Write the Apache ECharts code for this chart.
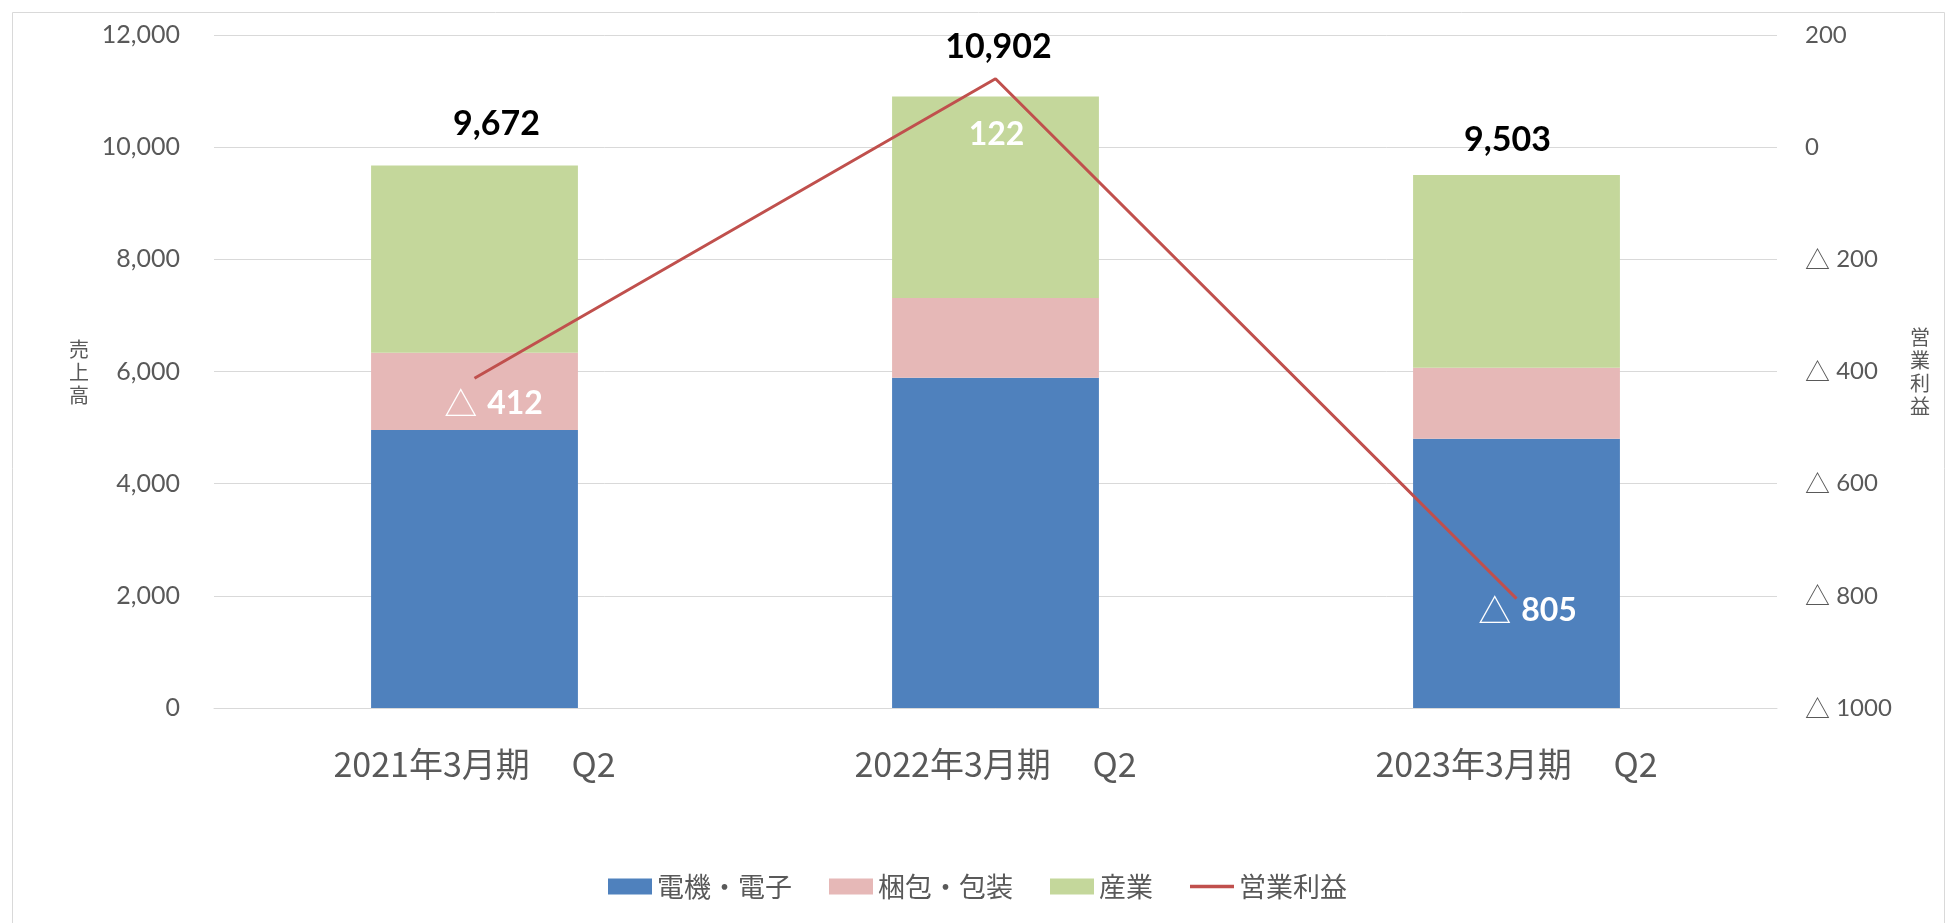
<!DOCTYPE html>
<html><head><meta charset="utf-8">
<script src="https://cdn.jsdelivr.net/npm/echarts@6/dist/echarts.min.js"></script>
<style>html,body{margin:0;padding:0;background:#fff}#c{width:1955px;height:923px}</style>
</head><body><div id="c"></div>
<script>
const categories = ['2021年3月期\u3000 Q2', '2022年3月期\u3000 Q2', '2023年3月期\u3000 Q2'];
const denki = [4956, 5889, 4800];
const konpo = [1377, 1422, 1267];
const sangyo = [3339, 3591, 3436];
const totals = [9672, 10902, 9503];
const profit = [-412, 122, -805];
const seriesNames = ['電機・電子', '梱包・包装', '産業', '営業利益'];

const jp = '"Noto Sans CJK JP", "Noto Sans", sans-serif';
const num = 'Lato, "Open Sans", sans-serif';
const grey = '#595959';

const totalDist = [25, 33, 18];
const totalShift = [22, 3, -9];
const profitOffsets = [[19, 25], [1, 56], [11, 12]];

const chart = echarts.init(document.getElementById('c'));
chart.setOption({
  animation: false,
  backgroundColor: '#fff',
  grid: { left: 214, right: 178, top: 35, bottom: 215, containLabel: false },
  legend: {
    top: 868, left: 'center',
    itemWidth: 44, itemHeight: 16, itemGap: 37,
    textStyle: { fontFamily: jp, fontSize: 27, color: grey },
    data: [
      { name: seriesNames[0], icon: 'rect' },
      { name: seriesNames[1], icon: 'rect' },
      { name: seriesNames[2], icon: 'rect' },
      { name: seriesNames[3], icon: 'path://M0,0 L44,0 L44,3.5 L0,3.5 Z' }
    ]
  },
  xAxis: {
    type: 'category', data: categories,
    axisTick: { show: false },
    axisLine: { lineStyle: { color: '#d9d9d9', width: 1 } },
    axisLabel: { fontFamily: jp, fontSize: 34, color: grey, margin: 39 }
  },
  yAxis: [
    {
      type: 'value', min: 0, max: 12000, interval: 2000,
      axisLine: { show: false }, axisTick: { show: false },
      splitLine: { lineStyle: { color: '#d9d9d9', width: 1 } },
      axisLabel: { fontFamily: num, fontSize: 25, color: grey, margin: 34,
        formatter: v => v.toLocaleString('en-US') }
    },
    {
      type: 'value', min: -1000, max: 200, interval: 200,
      axisLine: { show: false }, axisTick: { show: false },
      splitLine: { show: false },
      axisLabel: { fontFamily: num, fontSize: 24, color: grey, margin: 28,
        formatter: v => v < 0 ? '{t|△} ' + (-v) : String(v),
        rich: { t: { fontFamily: jp, fontSize: 25, color: grey } } }
    }
  ],
  series: [
    { name: seriesNames[0], type: 'bar', stack: 's', barWidth: '39.7%', data: denki,
      itemStyle: { color: '#4F81BD' } },
    { name: seriesNames[1], type: 'bar', stack: 's', data: konpo,
      itemStyle: { color: '#E6B8B7' } },
    { name: seriesNames[2], type: 'bar', stack: 's',
      data: sangyo.map((v, i) => ({ value: v, label: { distance: totalDist[i], offset: [totalShift[i], 0] } })),
      itemStyle: { color: '#C4D79B' },
      label: { show: true, position: 'top', color: '#000', fontFamily: num, fontWeight: 'bold', fontSize: 34,
        formatter: p => totals[p.dataIndex].toLocaleString('en-US') } },
    { name: seriesNames[3], type: 'line', yAxisIndex: 1, symbol: 'circle', symbolSize: 0.1,
      data: profit.map((v, i) => ({ value: v, label: { offset: profitOffsets[i] } })),
      lineStyle: { color: '#C0504D', width: 3 }, itemStyle: { color: '#C0504D' },
      label: { show: true, position: 'inside',
        formatter: p => p.value < 0 ? '{t|△}{n|' + (-p.value) + '}' : '{n|' + p.value + '}',
        rich: {
          t: { color: '#fff', fontFamily: jp, fontSize: 33, fontWeight: 'normal', padding: [0, 10, 0, 0] },
          n: { color: '#fff', fontFamily: num, fontSize: 32, fontWeight: 'bold' }
        } } }
  ],
  graphic: [
    { type: 'rect', left: 10, top: 10, shape: { width: 1932, height: 930 }, silent: true,
      style: { fill: 'none', stroke: '#d9d9d9', lineWidth: 1 } },
    { type: 'text', x: 79, y: 372, style: { text: '売\n上\n高', fontFamily: jp, fontSize: 20, lineHeight: 23,
      fill: grey, align: 'center', verticalAlign: 'middle' } },
    { type: 'text', x: 1920, y: 372, style: { text: '営\n業\n利\n益', fontFamily: jp, fontSize: 20, lineHeight: 23,
      fill: grey, align: 'center', verticalAlign: 'middle' } }
  ]
});
</script></body></html>
